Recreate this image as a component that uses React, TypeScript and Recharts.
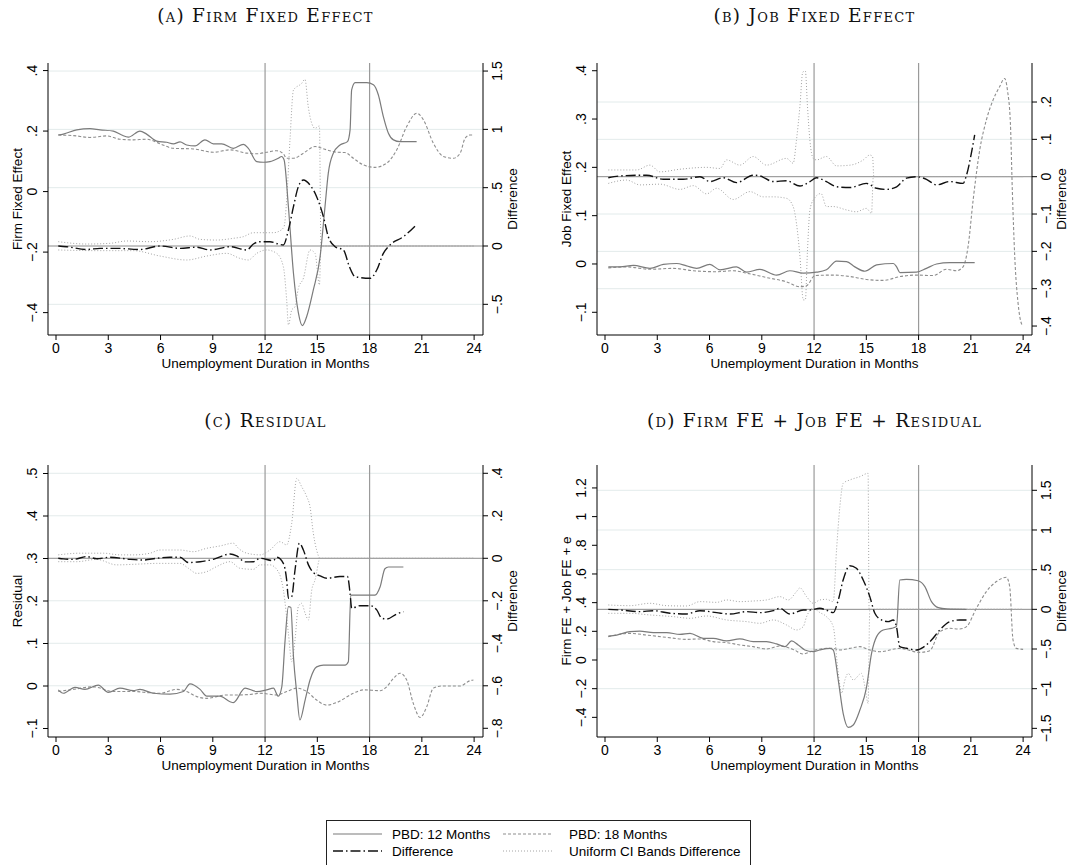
import { LineChart, Line, XAxis, YAxis, ReferenceLine, Label } from 'recharts';

type Pt = [number, number];

const FONT = '"Liberation Sans", Arial, Helvetica, sans-serif';
const SERIF = '"DejaVu Serif", "Liberation Serif", serif';

// shared x axis: unemployment duration in months
const monthTicks = [0, 3, 6, 9, 12, 15, 18, 21, 24];
const monthDomain: [number, number] = [-0.46, 24.51];
const cutoffs = [12, 18];

// (A) Firm fixed effect — levels on left axis, difference + CI on right axis
const firm12: Pt[] = [[0.13,0.187],[0.42,0.19],[1.19,0.204],[1.95,0.208],[2.53,0.204],[3.29,0.2],[3.77,0.187],[4.15,0.18],[4.82,0.2],[5.2,0.19],[5.78,0.167],[6.35,0.163],[6.74,0.158],[7.12,0.164],[7.5,0.154],[7.98,0.151],[8.55,0.171],[9.03,0.158],[9.51,0.158],[10.18,0.143],[10.75,0.156],[11.04,0.143],[11.52,0.099],[11.9,0.097],[12.28,0.099],[12.76,0.11],[12.95,0.116],[13.09,0.105],[13.34,-0.05],[13.63,-0.27],[13.91,-0.4],[14.14,-0.443],[14.39,-0.413],[14.77,-0.325],[15.16,-0.215],[15.44,-0.05],[15.63,0.061],[15.92,0.127],[16.3,0.154],[16.73,0.165],[16.88,0.204],[16.97,0.336],[17.17,0.36],[17.84,0.36],[18.22,0.353],[18.5,0.32],[18.79,0.248],[19.08,0.193],[19.37,0.171],[19.75,0.165],[20.7,0.165]];
const firm18: Pt[] = [[0.13,0.187],[1.0,0.185],[1.95,0.179],[2.91,0.184],[3.67,0.173],[4.44,0.171],[5.2,0.173],[5.97,0.158],[6.74,0.143],[7.88,0.141],[9.03,0.13],[9.99,0.138],[10.95,0.127],[11.52,0.125],[12.09,0.13],[12.67,0.135],[13.05,0.125],[13.24,0.11],[13.63,0.11],[14.2,0.127],[14.87,0.149],[15.54,0.138],[16.11,0.13],[16.59,0.129],[17.07,0.11],[17.65,0.088],[18.31,0.08],[18.98,0.094],[19.56,0.138],[20.13,0.215],[20.71,0.259],[21.09,0.237],[21.66,0.16],[22.24,0.116],[22.81,0.11],[23.2,0.127],[23.48,0.176],[23.77,0.187],[24.0,0.187]];
const firmDiff: Pt[] = [[0.13,0],[0.6,-0.006],[1.76,-0.03],[2.53,-0.02],[3.48,-0.02],[4.82,-0.03],[5.97,0],[7.12,-0.02],[8.08,-0.01],[8.84,-0.034],[9.99,-0.006],[10.95,-0.034],[11.33,0.017],[11.71,0.037],[12.28,0.037],[12.76,0.017],[13.05,0.009],[13.34,0.137],[13.63,0.337],[13.91,0.509],[14.2,0.566],[14.58,0.523],[14.96,0.423],[15.35,0.251],[15.63,0.08],[16.02,-0.006],[16.5,-0.034],[16.84,-0.177],[17.17,-0.263],[18.03,-0.277],[18.41,-0.206],[18.79,-0.063],[19.17,0.009],[19.94,0.08],[20.71,0.186]];
const firmHi: Pt[] = [[0.13,0.037],[1.76,0.017],[3.1,0.023],[4.06,0.043],[5.4,0.037],[6.74,0.057],[7.69,0.086],[8.27,0.057],[9.22,0.051],[10.18,0.066],[10.75,0.08],[11.33,0.114],[12.09,0.114],[12.48,0.114],[12.86,0.131],[13.09,0.166],[13.24,0.394],[13.43,0.909],[13.63,1.337],[14.1,1.394],[14.29,1.429],[14.48,1.194],[14.68,1.051],[14.87,1.009],[15.12,1.029],[15.21,0],[24,0]];
const firmLo: Pt[] = [[0.13,-0.034],[2.53,-0.04],[4.44,-0.04],[5.97,-0.086],[7.5,-0.12],[8.65,-0.086],[9.8,-0.063],[10.56,-0.106],[11.04,-0.12],[11.52,-0.063],[12.09,-0.034],[12.67,-0.063],[13.05,-0.177],[13.24,-0.463],[13.34,-0.677],[13.53,-0.549],[13.72,-0.52],[13.91,-0.363],[14.2,-0.277],[14.58,-0.034],[14.87,-0.063],[15.12,-0.334],[15.21,0],[24,0]];

// (B) Job fixed effect
const job12: Pt[] = [[0.19,-0.006],[0.86,-0.006],[1.63,-0.003],[2.58,-0.009],[3.35,-0.001],[4.11,0.001],[4.68,-0.004],[5.26,-0.009],[6.02,-0.001],[6.6,-0.012],[7.55,-0.006],[8.13,-0.017],[8.89,-0.011],[9.85,-0.023],[10.61,-0.014],[11.38,-0.019],[12.14,-0.017],[12.71,-0.012],[13.29,0.006],[13.86,0.005],[14.34,-0.006],[14.92,-0.015],[15.59,-0.002],[16.55,0.001],[16.74,-0.006],[16.93,-0.018],[17.88,-0.017],[18.45,-0.009],[19.03,0],[19.79,0.003],[21.22,0.003]];
const job18: Pt[] = [[0.19,-0.008],[1.24,-0.006],[2.58,-0.011],[3.92,-0.009],[5.07,-0.014],[6.41,-0.016],[7.36,-0.014],[8.13,-0.019],[9.27,-0.028],[10.42,-0.037],[11.19,-0.047],[11.57,-0.045],[12.05,-0.024],[13.1,-0.023],[14.08,-0.026],[15.0,-0.032],[15.97,-0.034],[16.93,-0.026],[17.88,-0.023],[18.84,-0.024],[19.6,-0.011],[20.17,-0.014],[20.55,-0.006],[20.84,0.036],[21.13,0.132],[21.51,0.236],[21.89,0.298],[22.27,0.339],[22.65,0.367],[22.94,0.384],[23.1,0.36],[23.27,0.291],[23.38,0.153],[23.52,0.015],[23.71,-0.081],[23.9,-0.123],[24.0,-0.128]];
const jobDiff: Pt[] = [[0.19,-0.003],[0.86,0.002],[2.39,0.004],[3.35,-0.007],[4.49,-0.007],[5.45,0],[6.02,-0.013],[6.79,-0.003],[7.55,-0.016],[8.51,0.004],[8.89,0.002],[9.66,-0.013],[10.42,-0.011],[11.19,-0.025],[11.76,-0.013],[12.14,-0.003],[12.71,-0.013],[13.29,-0.027],[14.08,-0.029],[15.0,-0.018],[15.59,-0.031],[16.16,-0.034],[16.74,-0.027],[17.3,-0.004],[17.88,0],[18.45,-0.007],[19.03,-0.022],[19.79,-0.013],[20.55,-0.018],[20.75,0.004],[21.03,0.063],[21.22,0.112]];
const jobHi: Pt[] = [[0.19,0.018],[1.82,0.018],[2.58,0.031],[3.15,0.013],[4.3,0.02],[5.83,0.025],[6.6,0.022],[6.98,0.045],[7.74,0.031],[8.51,0.054],[9.27,0.031],[10.42,0.049],[10.8,0.036],[10.99,0.098],[11.19,0.19],[11.35,0.28],[11.5,0.283],[11.62,0.19],[11.76,0.098],[11.95,0.049],[12.14,0.045],[12.71,0.054],[13.29,0.029],[14.08,0.031],[14.83,0.045],[15.2,0.058],[15.36,0.054],[15.43,0],[24,0]];
const jobLo: Pt[] = [[0.19,-0.018],[1.24,-0.009],[2.01,-0.022],[3.15,-0.02],[4.3,-0.034],[5.07,-0.024],[5.83,-0.046],[6.41,-0.031],[7.36,-0.061],[8.32,-0.04],[9.08,-0.054],[9.66,-0.054],[10.42,-0.058],[10.8,-0.08],[10.99,-0.125],[11.19,-0.214],[11.38,-0.33],[11.5,-0.33],[11.62,-0.2],[11.76,-0.09],[11.95,-0.063],[12.4,-0.045],[12.71,-0.08],[13.1,-0.08],[13.86,-0.089],[14.43,-0.094],[15.0,-0.085],[15.3,-0.098],[15.4,0],[24,0]];

// (C) Residual
const res12: Pt[] = [[0.13,-0.009],[0.42,-0.017],[1.09,-0.003],[1.66,-0.008],[2.43,0.002],[3.0,-0.015],[3.67,-0.005],[4.44,-0.011],[4.82,-0.008],[5.59,-0.017],[6.54,-0.019],[7.31,-0.013],[7.69,0.005],[8.27,-0.008],[8.65,-0.024],[9.41,-0.024],[9.99,-0.037],[10.18,-0.039],[10.85,-0.005],[11.52,-0.013],[12.09,-0.009],[12.48,-0.005],[12.76,-0.024],[12.96,-0.002],[13.15,0.108],[13.34,0.187],[13.48,0.185],[13.63,0.069],[13.82,-0.017],[14.0,-0.08],[14.3,-0.033],[14.58,0.014],[14.96,0.045],[15.35,0.049],[16.59,0.049],[16.78,0.057],[16.92,0.214],[18.31,0.214],[18.6,0.233],[18.88,0.276],[19.08,0.28],[19.94,0.28]];
const res18: Pt[] = [[0.13,-0.013],[0.99,-0.008],[2.14,-0.002],[3.29,-0.013],[4.44,-0.013],[5.4,-0.016],[5.97,-0.017],[6.93,-0.008],[7.5,-0.013],[8.08,-0.025],[8.65,-0.029],[9.8,-0.021],[10.56,-0.021],[11.33,-0.019],[11.71,-0.017],[12.67,-0.021],[13.24,-0.013],[13.82,-0.005],[14.39,-0.013],[14.96,-0.033],[15.54,-0.045],[16.11,-0.039],[17.07,-0.017],[17.65,-0.009],[18.6,-0.011],[18.98,-0.002],[19.37,0.018],[19.75,0.03],[20.13,0.014],[20.51,-0.041],[20.9,-0.074],[21.28,-0.049],[21.66,-0.005],[22.14,0],[23.19,0],[23.77,0.0125],[23.96,0.014]];
const resDiff: Pt[] = [[0.13,0],[0.42,-0.003],[0.99,-0.005],[1.76,0.008],[2.33,-0.002],[3.1,0.005],[4.25,-0.005],[5.01,-0.008],[5.78,0],[6.54,0.005],[7.12,0.005],[7.6,-0.02],[8.27,-0.016],[9.03,-0.005],[9.99,0.02],[10.37,0.011],[10.85,-0.017],[11.33,-0.016],[11.71,0],[12.48,-0.011],[12.67,0.005],[13.05,-0.024],[13.24,-0.102],[13.34,-0.188],[13.53,-0.18],[13.72,-0.055],[13.97,0.071],[14.2,0.039],[14.49,-0.031],[14.77,-0.067],[15.16,-0.083],[15.54,-0.094],[16.3,-0.086],[16.73,-0.086],[16.88,-0.165],[16.97,-0.235],[17.45,-0.223],[18.03,-0.223],[18.41,-0.243],[18.7,-0.282],[18.98,-0.286],[19.56,-0.262],[19.94,-0.251]];
const resHi: Pt[] = [[0.13,0.016],[1.38,0.024],[2.72,0.024],[3.67,0.016],[4.44,0.016],[5.4,0.024],[5.97,0.039],[7.12,0.039],[7.88,0.031],[8.65,0.047],[9.41,0.058],[10.18,0.071],[10.47,0.047],[10.95,0.024],[11.71,0.016],[12.28,0.039],[12.86,0.078],[13.24,0.063],[13.53,0.165],[13.82,0.376],[14.1,0.337],[14.39,0.29],[14.58,0.243],[14.77,0.118],[14.96,0.039],[15.16,0],[24,0]];
const resLo: Pt[] = [[0.13,-0.016],[1.19,-0.016],[2.33,-0.005],[3.48,-0.031],[4.82,-0.027],[5.78,-0.024],[7.12,-0.024],[7.6,-0.047],[8.08,-0.071],[8.65,-0.063],[9.22,-0.039],[9.99,-0.016],[10.56,-0.047],[11.33,-0.052],[11.71,-0.031],[12.28,-0.031],[12.76,-0.063],[13.05,-0.149],[13.34,-0.353],[13.53,-0.486],[13.72,-0.384],[13.91,-0.227],[14.1,-0.212],[14.3,-0.259],[14.49,-0.29],[14.68,-0.149],[14.87,-0.102],[15.16,0],[24,0]];

// (D) Firm FE + Job FE + Residual
const tot12: Pt[] = [[0.19,0.167],[0.67,0.174],[1.43,0.198],[2.0,0.202],[2.77,0.191],[3.54,0.191],[4.3,0.179],[4.88,0.186],[5.64,0.151],[6.21,0.151],[6.98,0.133],[7.74,0.147],[8.51,0.128],[9.27,0.128],[9.85,0.112],[10.33,0.093],[10.71,0.133],[11.09,0.105],[11.47,0.07],[11.95,0.058],[12.33,0.07],[12.9,0.081],[13.1,0.07],[13.39,-0.14],[13.67,-0.372],[13.96,-0.47],[14.25,-0.453],[14.63,-0.349],[15.0,-0.198],[15.3,0.047],[15.59,0.163],[15.97,0.209],[16.45,0.221],[16.73,0.233],[16.92,0.558],[17.3,0.563],[17.97,0.553],[18.36,0.512],[18.74,0.407],[19.13,0.365],[19.6,0.356],[20.75,0.353]];
const tot18: Pt[] = [[0.19,0.163],[1.43,0.186],[2.39,0.174],[3.54,0.158],[4.69,0.144],[5.45,0.147],[6.21,0.128],[6.98,0.121],[7.74,0.105],[8.51,0.093],[9.27,0.077],[10.04,0.098],[10.8,0.074],[11.38,0.042],[11.95,0.065],[12.71,0.081],[13.1,0.081],[13.48,0.07],[14.05,0.081],[14.63,0.093],[15.2,0.07],[15.78,0.058],[16.92,0.081],[18.07,0.053],[18.64,0.065],[19.22,0.198],[19.79,0.221],[20.36,0.216],[20.75,0.233],[21.32,0.361],[21.89,0.477],[22.47,0.547],[23.04,0.577],[23.23,0.512],[23.42,0.14],[23.61,0.081],[24.0,0.074]];
const totDiff: Pt[] = [[0.19,0],[0.86,-0.008],[2.01,-0.029],[2.77,-0.017],[3.73,-0.05],[4.68,-0.059],[5.45,-0.017],[6.41,-0.042],[7.17,-0.059],[8.13,-0.029],[8.89,-0.042],[9.66,-0.017],[10.04,0.013],[10.61,-0.059],[11.38,-0.008],[11.76,-0.008],[12.33,0.013],[12.71,-0.01],[13.1,-0.042],[13.39,0.118],[13.67,0.37],[14.05,0.55],[14.43,0.517],[14.82,0.37],[15.2,0.16],[15.49,-0.05],[15.87,-0.134],[16.25,-0.155],[16.54,-0.134],[16.73,-0.218],[16.92,-0.47],[17.3,-0.49],[17.88,-0.513],[18.26,-0.479],[18.74,-0.387],[19.22,-0.26],[19.79,-0.155],[20.36,-0.134],[20.75,-0.134]];
const totHi: Pt[] = [[0.19,0.055],[1.43,0.046],[2.58,0.076],[3.54,0.046],[4.68,0.042],[5.45,0.097],[6.41,0.088],[6.98,0.118],[7.74,0.097],[8.51,0.105],[9.27,0.118],[10.04,0.16],[10.52,0.118],[10.99,0.223],[11.19,0.27],[11.57,0.16],[11.95,0.076],[12.33,0.118],[12.71,0.126],[13.1,0.097],[13.29,0.748],[13.48,1.294],[13.67,1.588],[14.05,1.63],[14.63,1.672],[15.1,1.714],[15.16,0],[24,0]];
const totLo: Pt[] = [[0.19,-0.05],[1.43,-0.05],[2.58,-0.071],[3.92,-0.092],[4.88,-0.113],[5.83,-0.084],[6.98,-0.134],[8.13,-0.155],[8.89,-0.176],[9.66,-0.134],[10.42,-0.197],[10.99,-0.26],[11.38,-0.218],[11.57,-0.092],[11.95,0.013],[12.33,-0.04],[12.71,-0.092],[13.1,-0.218],[13.39,-0.807],[13.58,-1.059],[13.77,-0.89],[13.96,-0.807],[14.25,-0.89],[14.72,-0.807],[14.92,-0.975],[15.1,-1.185],[15.2,0],[24,0]];

// legend entries
const legendItems = ['PBD: 12 Months', 'PBD: 18 Months', 'Difference', 'Uniform CI Bands Difference'];

const lineStyle = {
  pbd12: { stroke: '#7b7b7b', strokeWidth: 1.2 },
  pbd18: { stroke: '#8e8e8e', strokeWidth: 1.1, strokeDasharray: '3 2' },
  diff: { stroke: '#111111', strokeWidth: 1.4, strokeDasharray: '10 3 1.5 3' },
  band: { stroke: '#a4a4a4', strokeWidth: 1, strokeDasharray: '1 2' },
};

// Stata-like tick labels: ".4", "−.2", "1.5"
const fmt = (v: number) => {
  if (v === 0) return '0';
  const s = Math.abs(v).toString().replace(/^0\./, '.');
  return (v < 0 ? '\u2212' : '') + s;
};

const rows = (pts: Pt[]) => pts.map(([x, y]) => ({ x, y }));

const vText = (cx: number, cy: number, txt: string, size: number, key?: string) => (
  <text
    key={key}
    transform={`translate(${cx},${cy}) rotate(-90)`}
    textAnchor="middle"
    dominantBaseline="central"
    fontSize={size}
    fontFamily={FONT}
    fill="#000"
  >
    {txt}
  </text>
);

const leftTick = (p: any) => vText(p.x - 11, p.y, fmt(p.payload.value), 14);
const rightTick = (p: any) => vText(p.x + 9, p.y, fmt(p.payload.value), 14);

interface PanelDef {
  title: string;
  yTitle: string;
  left: number;
  top: number;
  width: number;
  yLeftWidth: number;
  yRightWidth: number;
  marginRight: number;
  titleY: number;
  leftDomain: [number, number];
  leftTicks: number[];
  rightDomain: [number, number];
  rightTicks: number[];
  grid: number[];
  s12: Pt[];
  s18: Pt[];
  diff: Pt[];
  lo: Pt[];
  hi: Pt[];
}

const panels: PanelDef[] = [
  {
    title: '(a) Firm Fixed Effect', yTitle: 'Firm Fixed Effect',
    left: 0, top: 40, width: 540, yLeftWidth: 48, yRightWidth: 50, marginRight: 7, titleY: 22,
    leftDomain: [-0.474, 0.425], leftTicks: [-0.4, -0.2, 0, 0.2, 0.4],
    rightDomain: [-0.763, 1.569], rightTicks: [-0.5, 0, 0.5, 1, 1.5], grid: [-0.5, 0.5, 1, 1.5],
    s12: firm12, s18: firm18, diff: firmDiff, lo: firmLo, hi: firmHi,
  },
  {
    title: '(b) Job Fixed Effect', yTitle: 'Job Fixed Effect',
    left: 540, top: 40, width: 529, yLeftWidth: 57, yRightWidth: 37, marginRight: 0, titleY: 22,
    leftDomain: [-0.147, 0.416], leftTicks: [-0.1, 0, 0.1, 0.2, 0.3, 0.4],
    rightDomain: [-0.424, 0.3045], rightTicks: [-0.4, -0.3, -0.2, -0.1, 0, 0.1, 0.2], grid: [-0.3, -0.2, -0.1, 0.1, 0.2],
    s12: job12, s18: job18, diff: jobDiff, lo: jobLo, hi: jobHi,
  },
  {
    title: '(c) Residual', yTitle: 'Residual',
    left: 0, top: 442, width: 540, yLeftWidth: 48, yRightWidth: 50, marginRight: 7, titleY: 427,
    leftDomain: [-0.12, 0.52], leftTicks: [-0.1, 0, 0.1, 0.2, 0.3, 0.4, 0.5],
    rightDomain: [-0.841, 0.439], rightTicks: [-0.8, -0.6, -0.4, -0.2, 0, 0.2, 0.4], grid: [-0.6, -0.4, -0.2, 0.2, 0.4],
    s12: res12, s18: res18, diff: resDiff, lo: resLo, hi: resHi,
  },
  {
    title: '(d) Firm FE + Job FE + Residual', yTitle: 'Firm FE + Job FE + e',
    left: 540, top: 442, width: 529, yLeftWidth: 57, yRightWidth: 37, marginRight: 0, titleY: 427,
    leftDomain: [-0.537, 1.36], leftTicks: [-0.4, -0.2, 0, 0.2, 0.4, 0.6, 0.8, 1, 1.2],
    rightDomain: [-1.609, 1.819], rightTicks: [-1.5, -1, -0.5, 0, 0.5, 1, 1.5], grid: [-1, -0.5, 0.5, 1, 1.5],
    s12: tot12, s18: tot18, diff: totDiff, lo: totLo, hi: totHi,
  },
];

function Panel({ p }: { p: PanelDef }) {
  return (
    <div style={{ position: 'absolute', left: p.left, top: p.top }}>
      <LineChart width={p.width} height={340} margin={{ top: 23, right: p.marginRight, bottom: 5, left: 0 }}>
        <XAxis
          type="number"
          dataKey="x"
          domain={monthDomain}
          allowDataOverflow
          ticks={monthTicks}
          interval={0}
          height={40}
          tickSize={5}
          tickMargin={3}
          stroke="#000"
          tick={{ fill: '#000', fontSize: 14, fontFamily: FONT }}
        >
          <Label
            content={(lp: any) => {
              const vb = lp.viewBox || { x: 0, y: 0, width: 0 };
              return (
                <text x={vb.x + vb.width / 2} y={vb.y + 28} textAnchor="middle" dominantBaseline="central" fontSize={13.5} fontFamily={FONT} fill="#000">
                  Unemployment Duration in Months
                </text>
              );
            }}
          />
        </XAxis>
        <YAxis
          yAxisId="left"
          type="number"
          domain={p.leftDomain}
          allowDataOverflow
          ticks={p.leftTicks}
          interval={0}
          width={p.yLeftWidth}
          tickSize={5}
          tickMargin={0}
          stroke="#000"
          tick={leftTick}
        >
          <Label
            content={(lp: any) => {
              const vb = lp.viewBox || { x: 0, y: 0, width: 0, height: 0 };
              return vText(vb.x + vb.width - 31, vb.y + vb.height / 2, p.yTitle, 13.5);
            }}
          />
        </YAxis>
        <YAxis
          yAxisId="right"
          orientation="right"
          type="number"
          domain={p.rightDomain}
          allowDataOverflow
          ticks={p.rightTicks}
          interval={0}
          width={p.yRightWidth}
          tickSize={5}
          tickMargin={0}
          stroke="#000"
          tick={rightTick}
        >
          <Label
            content={(lp: any) => {
              const vb = lp.viewBox || { x: 0, y: 0, width: 0, height: 0 };
              return vText(vb.x + 29, vb.y + vb.height / 2, 'Difference', 13.5);
            }}
          />
        </YAxis>

        {/* light horizontal grid on the right-axis ticks */}
        {p.grid.map((v) => (
          <ReferenceLine key={`g${v}`} yAxisId="right" y={v} stroke="#e3ebeb" strokeWidth={1} />
        ))}
        <ReferenceLine yAxisId="right" y={0} stroke="#8a8a8a" strokeWidth={1} />
        {cutoffs.map((c) => (
          <ReferenceLine key={`c${c}`} yAxisId="left" x={c} stroke="#9a9a9a" strokeWidth={1.2} />
        ))}

        <Line yAxisId="right" data={rows(p.hi)} dataKey="y" type="monotone" dot={false} activeDot={false} isAnimationActive={false} {...lineStyle.band} />
        <Line yAxisId="right" data={rows(p.lo)} dataKey="y" type="monotone" dot={false} activeDot={false} isAnimationActive={false} {...lineStyle.band} />
        <Line yAxisId="left" data={rows(p.s18)} dataKey="y" type="monotone" dot={false} activeDot={false} isAnimationActive={false} {...lineStyle.pbd18} />
        <Line yAxisId="left" data={rows(p.s12)} dataKey="y" type="monotone" dot={false} activeDot={false} isAnimationActive={false} {...lineStyle.pbd12} />
        <Line yAxisId="right" data={rows(p.diff)} dataKey="y" type="monotone" dot={false} activeDot={false} isAnimationActive={false} {...lineStyle.diff} />
      </LineChart>
    </div>
  );
}

export default function App() {
  const legendStyles = [lineStyle.pbd12, lineStyle.pbd18, lineStyle.diff, lineStyle.band];
  return (
    <div style={{ position: 'absolute', left: 0, top: 0, width: 1069, height: 865, overflow: 'hidden', background: '#fff' }}>
      {panels.map((p) => (
        <Panel key={p.title} p={p} />
      ))}
      <svg width={1069} height={865} style={{ position: 'absolute', left: 0, top: 0, pointerEvents: 'none' }}>
        {panels.map((p) => {
          const plotW = p.width - p.yLeftWidth - p.yRightWidth - p.marginRight;
          const cx = p.left + p.yLeftWidth + plotW / 2;
          return (
            <text key={p.title} x={cx} y={p.titleY} textAnchor="middle" fontSize={18.5} fontFamily={SERIF} letterSpacing={1.3} style={{ fontVariant: 'small-caps' }} fill="#111">
              {p.title}
            </text>
          );
        })}
        {/* legend box (bottom edge falls below the page) */}
        <rect x={326.5} y={820.5} width={424} height={60} fill="#fff" stroke="#222" strokeWidth={1} />
        {legendItems.map((name, i) => {
          const col = i % 2;
          const row = Math.floor(i / 2);
          const y = row === 0 ? 834 : 851;
          const lx = col === 0 ? 333 : 503;
          const tx = col === 0 ? 392 : 569;
          return (
            <g key={name}>
              <line x1={lx} x2={lx + 49} y1={y} y2={y} {...legendStyles[i]} />
              <text x={tx} y={y} dominantBaseline="central" fontSize={13.5} fontFamily={FONT} fill="#000">
                {name}
              </text>
            </g>
          );
        })}
      </svg>
    </div>
  );
}
